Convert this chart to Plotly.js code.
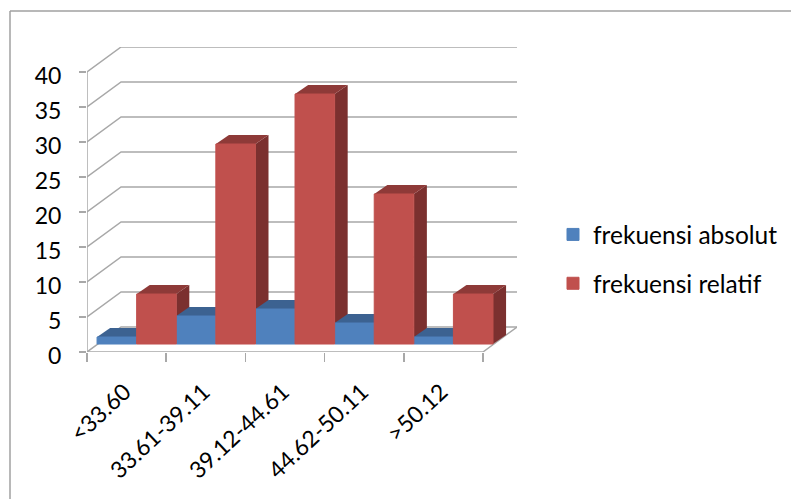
<!DOCTYPE html>
<html>
<head>
<meta charset="utf-8">
<script src="https://cdn.plot.ly/plotly-3.0.1.min.js"></script>
<style>html,body{margin:0;padding:0;background:#fff}#chart{width:791px;height:499px}</style>
</head>
<body>
<div id="chart"></div>
<script>
// Frequency distribution drawn as a pseudo-3D clustered column chart.
const categories = ['<33.60', '33.61-39.11', '39.12-44.61', '44.62-50.11', '>50.12'];
const absolut = [1, 4, 5, 3, 1];
const relatif = [7.14, 28.57, 35.71, 21.43, 7.14];
const yTicks = [0, 5, 10, 15, 20, 25, 30, 35, 40];

// Projection constants, in axis units.
const WALL_DX = 0.43, WALL_DY = 3.57;     // floor depth
const BAR_DX = 0.165, BAR_DY = 1.29;      // column depth
const BAR_BASE = 1.14;                    // columns stand inside the floor
const BAR_W = 0.5;
const X_MIN = -0.5, X_FRONT = 4.5, X_MAX = X_FRONT + WALL_DX;
const Y_MAX = 40 + WALL_DY;
const OFFSETS = {blue: -0.373, red: 0.127};
const COLORS = {
  blue: {front: '#4f81bd', top: '#3c6291', side: '#385d8a'},
  red:  {front: '#c0504d', top: '#8e3a38', side: '#7b302f'}
};
const GRID = '#a8a8a8';
const FONT = 'Lato, Carlito, Calibri, sans-serif';

function poly(pts, color) {
  return {
    type: 'scatter', mode: 'lines', x: pts.map(p => p[0]), y: pts.map(p => p[1]),
    fill: 'toself', fillcolor: color, line: {width: 0, color: color},
    hoverinfo: 'skip', showlegend: false
  };
}

function sideFace(i, v, offset, color) {
  const r = i + offset + BAR_W, b = BAR_BASE, t = BAR_BASE + v;
  return poly([[r, b], [r, t], [r + BAR_DX, t + BAR_DY], [r + BAR_DX, b + BAR_DY], [r, b]], color);
}
function topFace(i, v, offset, color) {
  const l = i + offset, r = l + BAR_W, t = BAR_BASE + v;
  return poly([[l, t], [l + BAR_DX, t + BAR_DY], [r + BAR_DX, t + BAR_DY], [r, t], [l, t]], color);
}

// Wall gridlines, floor outline and the vertical value axis.
const gridX = [], gridY = [];
yTicks.forEach(v => {
  gridX.push(X_MIN, X_MIN + WALL_DX, X_MAX, null);
  gridY.push(v, v + WALL_DY, v + WALL_DY, null);
});
gridX.push(X_MAX, X_FRONT, X_MIN, null, X_MIN, X_MIN);
gridY.push(WALL_DY, 0, 0, null, 0, 40);
const gridTrace = {
  type: 'scatter', mode: 'lines', x: gridX, y: gridY, connectgaps: false,
  line: {color: GRID, width: 1.5}, hoverinfo: 'skip', showlegend: false
};

const sides = [], tops = [];
categories.forEach((_, i) => {
  sides.push(sideFace(i, absolut[i], OFFSETS.blue, COLORS.blue.side));
  sides.push(sideFace(i, relatif[i], OFFSETS.red, COLORS.red.side));
});
categories.forEach((_, i) => {
  tops.push(topFace(i, absolut[i], OFFSETS.blue, COLORS.blue.top));
  tops.push(topFace(i, relatif[i], OFFSETS.red, COLORS.red.top));
});

function frontBars(name, values, key) {
  return {
    type: 'bar', name: name, legendgroup: name, x: categories, y: values,
    base: values.map(() => BAR_BASE), width: values.map(() => BAR_W),
    offset: values.map(() => OFFSETS[key]),
    marker: {color: COLORS[key].front, line: {width: 1, color: COLORS[key].front}},
    xaxis: 'x2', yaxis: 'y2'
  };
}

const traces = [gridTrace].concat(sides, tops, [
  frontBars('frekuensi absolut', absolut, 'blue'),
  frontBars('frekuensi relatif', relatif, 'red')
]);

const W = 791, H = 499, L = 87, T = 47, R = 274, B = 147;
const plotW = W - L - R, plotH = H - T - B;
const paperX = px => (px - L) / plotW;
const paperY = py => 1 - (py - T) / plotH;

const layout = {
  width: W, height: H,
  margin: {l: L, r: R, t: T, b: B, pad: 0, autoexpand: false},
  paper_bgcolor: '#fff', plot_bgcolor: 'rgba(0,0,0,0)',
  font: {family: FONT, color: '#000'},
  barmode: 'overlay',
  showlegend: true,
  legend: {
    x: paperX(553), y: paperY(212), xanchor: 'left', yanchor: 'top',
    font: {size: 24.5, family: FONT, color: '#000'},
    traceorder: 'grouped', tracegroupgap: 14, bgcolor: 'rgba(0,0,0,0)',
    itemclick: false, itemdoubleclick: false
  },
  xaxis: {
    type: 'linear', range: [X_MIN, X_MAX], showgrid: false, zeroline: false, showline: false,
    tickmode: 'array', tickvals: [-0.5, 0.5, 1.5, 2.5, 3.5, 4.5], ticktext: ['', '', '', '', '', ''],
    ticks: 'outside', ticklen: 9, tickwidth: 1.5, tickcolor: GRID
  },
  yaxis: {
    type: 'linear', range: [0, Y_MAX], showgrid: false, zeroline: false, showline: false,
    tickmode: 'array', tickvals: yTicks, ticks: 'outside', ticklen: 7, tickwidth: 1.5, tickcolor: GRID,
    ticklabelstandoff: 13, ticklabelshift: 4,
    tickfont: {size: 23, family: FONT, color: '#000'}
  },
  xaxis2: {
    type: 'category', overlaying: 'x', anchor: 'y2', range: [X_MIN, X_MAX],
    categoryorder: 'array', categoryarray: categories,
    showgrid: false, zeroline: false, showline: false, ticks: '',
    tickangle: -43, ticklabelstandoff: 21, ticklabelshift: -2, automargin: false,
    tickfont: {size: 23, family: FONT, color: '#000'}
  },
  yaxis2: {
    type: 'linear', overlaying: 'y', range: [0, Y_MAX], showgrid: false, zeroline: false,
    showline: false, showticklabels: false, ticks: ''
  },
  shapes: [
    {type: 'line', xref: 'paper', yref: 'paper', x0: paperX(10), x1: paperX(791), y0: paperY(11), y1: paperY(11), line: {color: '#a0a0a0', width: 1.5}},
    {type: 'line', xref: 'paper', yref: 'paper', x0: paperX(10), x1: paperX(10), y0: paperY(11), y1: paperY(499), line: {color: '#a0a0a0', width: 1.5}}
  ]
};

Plotly.newPlot('chart', traces, layout, {displayModeBar: false, staticPlot: true});
</script>
</body>
</html>
